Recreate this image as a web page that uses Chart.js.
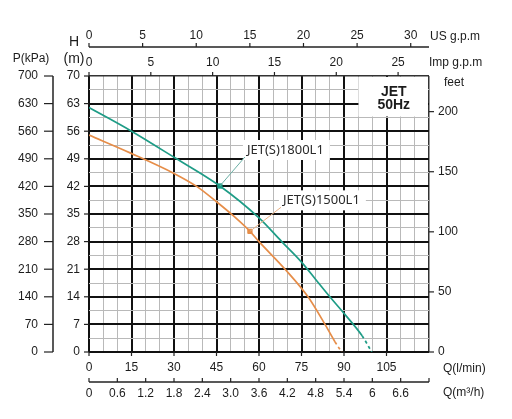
<!DOCTYPE html>
<html>
<head>
<meta charset="utf-8">
<script src="https://cdn.jsdelivr.net/npm/chart.js@4.4.1/dist/chart.umd.min.js"></script>
<style>
  html, body { margin: 0; padding: 0; background: #fff; }
  #wrap { width: 512px; height: 419px; position: relative; }
</style>
</head>
<body>
<div id="wrap"><canvas id="pumpChart"></canvas></div>
<script>
// flow Q (l/min) and head H (m)
let qS1800 = [0, 15, 30, 46.2, 60, 68, 75, 80, 85, 90, 96.4, 99.8];
let hS1800 = [62, 56, 49.4, 42.1, 34, 28, 22.8, 18.4, 14, 9.8, 4.1, 0];
let qS1500 = [0, 14.5, 30, 38, 45, 51, 56.8, 60, 69.2, 77.3, 83.3, 86.8, 89.2];
let hS1500 = [55, 50.5, 45.3, 42, 38.1, 34.5, 30.6, 28, 21, 14, 7, 2.6, 0];
// the marked point on each curve (Q, H)
let mark1800 = [46.2, 42.1];
let mark1500 = [56.8, 30.6];
let seriesNames = ["JET(S)1800L1", "JET(S)1500L1"];

// tick labels of all the axes
let qTicks = [0, 15, 30, 45, 60, 75, 90, 105];
let hTicks = [0, 7, 14, 21, 28, 35, 42, 49, 56, 63, 70];
let pTicks = [0, 70, 140, 210, 280, 350, 420, 490, 560, 630, 700];
let feetTicks = [0, 50, 100, 150, 200];
let usTicks = [0, 5, 10, 15, 20, 25, 30];
let impTicks = [0, 5, 10, 15, 20, 25];
let m3Ticks = [0, 0.6, 1.2, 1.8, 2.4, 3.0, 3.6, 4.2, 4.8, 5.4, 6.0, 6.6, 7.2];
let m3Labels = ["0", "0.6", "1.2", "1.8", "2.4", "3.0", "3.6", "4.2", "4.8", "5.4", "6", "6.6", ""];

const teal = "#1e9c86";
const orange = "#e68d48";
const ink = "#1c1c1c";
const font12 = '12px "Liberation Sans", Arial, sans-serif';

// grid every 5 l/min and 3.5 m
let qGrid = [];
for (let v = 0; v <= 120; v += 5) qGrid.push(v);
let hGrid = [];
for (let i = 0; i <= 20; i++) hGrid.push(i * 3.5);

const isMult = (v, step) => Math.abs(v / step - Math.round(v / step)) < 1e-6;

function text(ctx, s, px, py, align, font) {
  ctx.font = font || font12;
  ctx.fillStyle = ink;
  ctx.textAlign = align || "center";
  ctx.textBaseline = "middle";
  ctx.fillText(s, px, py);
}
function line(ctx, x1, y1, x2, y2, w, col) {
  ctx.beginPath();
  ctx.lineWidth = w;
  ctx.strokeStyle = col || "#222";
  ctx.moveTo(x1, y1);
  ctx.lineTo(x2, y2);
  ctx.stroke();
}

const axesPlugin = {
  id: "pumpAxes",
  beforeDatasetsDraw(chart) {
    const {ctx, scales} = chart;
    const x = scales.x, y = scales.y;
    const left = x.getPixelForValue(0), right = x.getPixelForValue(120);
    const top = y.getPixelForValue(70), bottom = y.getPixelForValue(0);
    ctx.save();

    // white box with JET 50Hz in the top right corner
    const bx1 = Math.round(x.getPixelForValue(95)) + 0.5;
    const by2 = Math.round(y.getPixelForValue(59.5)) - 0.5;
    ctx.fillStyle = "#fff";
    ctx.fillRect(bx1, top + 1, right - bx1 - 1, by2 - top - 1);
    const bcx = (bx1 + right) / 2;
    text(ctx, "JET", bcx, top + 16, "center", 'bold 14px "Liberation Sans", Arial, sans-serif');
    text(ctx, "50Hz", bcx, top + 29, "center", 'bold 14px "Liberation Sans", Arial, sans-serif');

    // US g.p.m axis on top
    const usY = 47;
    line(ctx, left, usY, right, usY, 1.5);
    usTicks.forEach(v => {
      const px = scales.us.getPixelForValue(v);
      line(ctx, px, usY, px, usY - 4, 1.2);
      text(ctx, String(v), px, usY - 11);
    });
    text(ctx, "US g.p.m", 430, 37, "left");

    // Imp g.p.m ticks on the grid top
    impTicks.forEach(v => {
      const px = scales.imp.getPixelForValue(v);
      line(ctx, px, top, px, top - 4, 1.2);
      text(ctx, String(v), px, top - 13);
    });
    text(ctx, "Imp g.p.m", 429, 63, "left");

    // feet on the right
    text(ctx, "feet", 444, 83, "left");
    feetTicks.forEach(v => {
      const py = scales.ft.getPixelForValue(v);
      line(ctx, right, py, right + 5, py, 1.2);
      text(ctx, String(v), 438, py, "left");
    });

    // P(kPa) axis on the left
    const pX = 53;
    line(ctx, pX, top, pX, bottom, 1.5);
    pTicks.forEach(v => {
      const py = scales.p.getPixelForValue(v);
      line(ctx, pX - 9, py, pX, py, 1.2);
      text(ctx, String(v), 38, py, "right");
    });
    text(ctx, "P(kPa)", 31, 59);

    // H(m)
    hTicks.forEach(v => {
      const py = y.getPixelForValue(v);
      line(ctx, left - 5, py, left, py, 1.2);
      text(ctx, String(v), 80, py, "right");
    });
    text(ctx, "H", 74, 42, "center", '14px "Liberation Sans", Arial, sans-serif');
    text(ctx, "(m)", 74, 59, "center", '14px "Liberation Sans", Arial, sans-serif');

    // Q(l/min) under the grid
    qTicks.forEach(v => {
      const px = x.getPixelForValue(v);
      line(ctx, px, bottom, px, bottom + 4, 1.2);
      text(ctx, String(v), px, bottom + 16);
    });
    text(ctx, "Q(l/min)", 443, 369, "left");

    // Q(m3/h) axis
    const mY = 382;
    line(ctx, left, mY, right, mY, 1.5);
    m3Ticks.forEach((v, i) => {
      const px = scales.m3.getPixelForValue(v);
      line(ctx, px, mY, px, mY - 4, 1.2);
      text(ctx, m3Labels[i], px, mY + 12);
    });
    text(ctx, "Q(m\u00b3/h)", 443, 393, "left");
    ctx.restore();
  },
  afterDatasetsDraw(chart) {
    const {ctx, scales} = chart;
    const x = scales.x, y = scales.y;
    const notes = [
      {m: mark1800, name: seriesNames[0], dx: 25, dy: -29, col: "#6aaea4"},
      {m: mark1500, name: seriesNames[1], dx: 31, dy: -24, col: "#e9b184"}
    ];
    ctx.save();
    notes.forEach(n => {
      const mx = x.getPixelForValue(n.m[0]), my = y.getPixelForValue(n.m[1]);
      const ex = mx + n.dx, ey = my + n.dy;
      ctx.font = '13px "Noto Sans", "Open Sans", sans-serif';
      const w = ctx.measureText(n.name).width;
      ctx.fillStyle = "#fff";
      ctx.fillRect(ex - 2, ey - 17, w + 10, 20);
      line(ctx, mx, my, ex, ey, 1, n.col);
      ctx.fillStyle = "#2a2a2a";
      ctx.textAlign = "left";
      ctx.textBaseline = "middle";
      ctx.fillText(n.name, ex + 2, ey - 7);
    });
    ctx.restore();
  }
};

function gridColor(step, last) {
  return c => {
    const v = c.tick.value;
    if (v === last) return "#333";
    return isMult(v, step) ? "#111" : "#b9b9b9";
  };
}
function gridWidth(step, last) {
  return c => {
    const v = c.tick.value;
    if (v === last) return 1.5;
    return isMult(v, step) ? 2 : 1;
  };
}

function curve(qs, hs, col) {
  return {
    type: "line",
    data: qs.map((q, i) => ({x: q, y: hs[i]})),
    borderColor: col,
    borderWidth: 1.7,
    pointRadius: 0,
    fill: false,
    cubicInterpolationMode: "monotone",
    segment: {
      borderDash: c => c.p1DataIndex === qs.length - 1 ? [3, 3] : undefined
    }
  };
}
function marker(m, col) {
  return {
    type: "scatter",
    data: [{x: m[0], y: m[1]}],
    pointStyle: "rect",
    pointRadius: 3,
    backgroundColor: col,
    borderColor: col
  };
}

new Chart(document.getElementById("pumpChart"), {
  type: "line",
  data: {
    datasets: [
      curve(qS1800, hS1800, teal),
      curve(qS1500, hS1500, orange),
      marker(mark1800, teal),
      marker(mark1500, orange)
    ]
  },
  options: {
    responsive: true,
    maintainAspectRatio: false,
    animation: false,
    layout: {padding: {left: 89, right: 83, top: 76, bottom: 67}},
    plugins: {legend: {display: false}, tooltip: {enabled: false}},
    scales: {
      x: {
        type: "linear", min: 0, max: 120,
        afterBuildTicks: s => { s.ticks = qGrid.map(v => ({value: v})); },
        ticks: {display: false},
        grid: {drawTicks: false, color: gridColor(15, 120), lineWidth: gridWidth(15, 120)},
        border: {display: false}
      },
      y: {
        type: "linear", min: 0, max: 70,
        afterBuildTicks: s => { s.ticks = hGrid.map(v => ({value: v})); },
        ticks: {display: false},
        grid: {drawTicks: false, color: gridColor(7, 70), lineWidth: gridWidth(7, 70)},
        border: {display: false}
      },
      us: {type: "linear", axis: "x", position: "top", display: false, min: 0, max: 120 / 3.785},
      imp: {type: "linear", axis: "x", position: "top", display: false, min: 0, max: 27.5},
      m3: {type: "linear", axis: "x", position: "bottom", display: false, min: 0, max: 7.2},
      p: {type: "linear", axis: "y", position: "left", display: false, min: 0, max: 700},
      ft: {type: "linear", axis: "y", position: "right", display: false, min: 0, max: 70 * 3.2808}
    }
  },
  plugins: [axesPlugin]
});
</script>
</body>
</html>
